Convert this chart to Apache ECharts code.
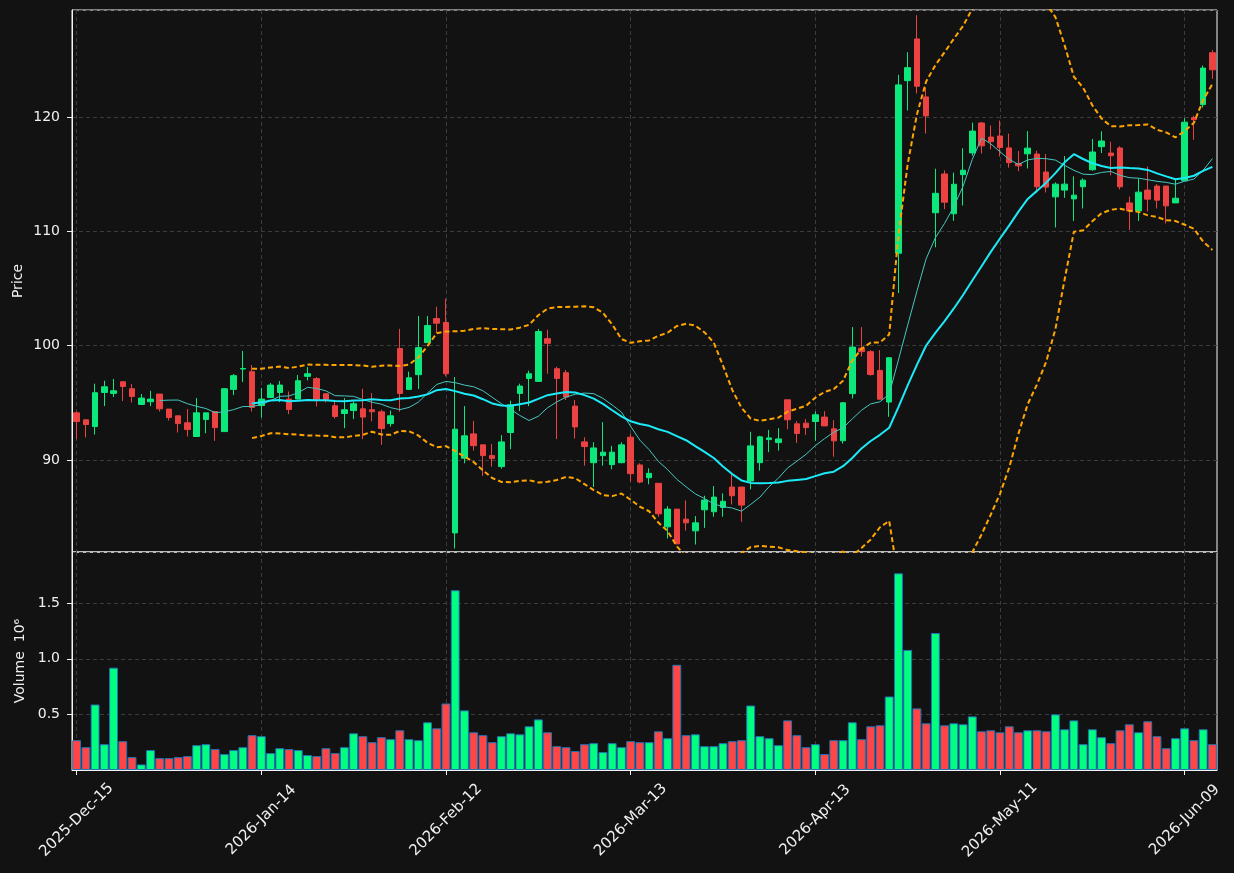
<!DOCTYPE html>
<html>
<head>
<meta charset="utf-8">
<script src="https://cdn.jsdelivr.net/npm/echarts@6/dist/echarts.min.js"></script>
<style>
  html, body { margin: 0; padding: 0; background: #121212; }
  #chart { width: 1234px; height: 873px; }
</style>
</head>
<body>
<div id="chart"></div>
<script>
// trading days shown on the x axis
const dates = [
  '2025-Dec-15','2025-Dec-16','2025-Dec-17','2025-Dec-18','2025-Dec-19','2025-Dec-22','2025-Dec-23','2025-Dec-24','2025-Dec-26','2025-Dec-29',
  '2025-Dec-30','2025-Dec-31','2026-Jan-02','2026-Jan-05','2026-Jan-06','2026-Jan-07','2026-Jan-08','2026-Jan-09','2026-Jan-12','2026-Jan-13',
  '2026-Jan-14','2026-Jan-15','2026-Jan-16','2026-Jan-20','2026-Jan-21','2026-Jan-22','2026-Jan-23','2026-Jan-26','2026-Jan-27','2026-Jan-28',
  '2026-Jan-29','2026-Jan-30','2026-Feb-02','2026-Feb-03','2026-Feb-04','2026-Feb-05','2026-Feb-06','2026-Feb-09','2026-Feb-10','2026-Feb-11',
  '2026-Feb-12','2026-Feb-13','2026-Feb-17','2026-Feb-18','2026-Feb-19','2026-Feb-20','2026-Feb-23','2026-Feb-24','2026-Feb-25','2026-Feb-26',
  '2026-Feb-27','2026-Mar-02','2026-Mar-03','2026-Mar-04','2026-Mar-05','2026-Mar-06','2026-Mar-09','2026-Mar-10','2026-Mar-11','2026-Mar-12',
  '2026-Mar-13','2026-Mar-16','2026-Mar-17','2026-Mar-18','2026-Mar-19','2026-Mar-20','2026-Mar-23','2026-Mar-24','2026-Mar-25','2026-Mar-26',
  '2026-Mar-27','2026-Mar-30','2026-Mar-31','2026-Apr-01','2026-Apr-02','2026-Apr-06','2026-Apr-07','2026-Apr-08','2026-Apr-09','2026-Apr-10',
  '2026-Apr-13','2026-Apr-14','2026-Apr-15','2026-Apr-16','2026-Apr-17','2026-Apr-20','2026-Apr-21','2026-Apr-22','2026-Apr-23','2026-Apr-24',
  '2026-Apr-27','2026-Apr-28','2026-Apr-29','2026-Apr-30','2026-May-01','2026-May-04','2026-May-05','2026-May-06','2026-May-07','2026-May-08',
  '2026-May-11','2026-May-12','2026-May-13','2026-May-14','2026-May-15','2026-May-18','2026-May-19','2026-May-20','2026-May-21','2026-May-22',
  '2026-May-26','2026-May-27','2026-May-28','2026-May-29','2026-Jun-01','2026-Jun-02','2026-Jun-03','2026-Jun-04','2026-Jun-05','2026-Jun-08',
  '2026-Jun-09','2026-Jun-10','2026-Jun-11','2026-Jun-12'
];

const openPrice = [
  94.12,93.51,92.92,95.90,95.82,96.84,96.23,94.85,95.09,95.76,
  94.45,93.86,93.25,92.05,93.54,94.24,92.48,96.17,97.95,97.72,
  94.76,95.46,95.90,95.32,95.32,97.31,97.11,95.79,94.74,94.06,
  94.32,94.47,94.39,94.21,93.18,99.74,96.17,97.46,100.26,102.37,
  102.02,83.62,90.15,92.28,91.32,90.38,89.42,92.40,95.82,97.13,
  96.87,100.61,97.98,97.63,94.71,91.58,89.76,90.38,89.59,89.76,
  91.99,89.56,88.45,87.96,84.15,85.70,84.82,83.80,85.64,85.47,
  85.85,87.63,87.63,88.16,89.76,91.78,91.52,95.26,93.16,93.22,
  93.36,93.75,92.72,91.68,95.80,99.77,99.47,97.83,95.06,108.08,
  123.17,126.82,121.75,111.62,115.01,111.53,114.95,116.85,119.47,118.24,
  118.33,117.29,115.93,116.77,116.75,115.18,113.01,113.60,112.83,113.89,
  115.38,117.40,116.84,117.28,112.48,111.78,113.60,113.95,113.95,112.48,
  114.41,119.94,121.08,125.61
];
const closePrice = [
  93.36,93.10,95.88,96.40,96.05,96.43,95.55,95.41,95.32,94.47,
  93.71,93.18,92.66,94.12,94.12,92.83,96.23,97.37,98.00,94.59,
  95.32,96.55,96.55,94.41,96.93,97.54,95.26,95.26,93.80,94.39,
  94.91,93.75,94.21,92.75,93.86,95.82,97.19,99.82,101.75,101.96,
  97.54,92.69,92.11,91.25,90.38,90.12,91.58,94.82,96.46,97.54,
  101.23,100.20,97.13,95.50,92.89,91.17,91.05,90.68,90.68,91.32,
  88.80,88.07,88.83,85.29,85.70,82.66,84.50,84.50,86.49,86.75,
  86.38,86.87,86.05,91.23,92.02,91.93,91.84,93.51,92.31,92.83,
  93.95,92.98,91.67,95.00,99.87,99.47,97.47,95.31,98.94,122.80,
  124.31,122.68,120.09,113.32,112.54,114.11,115.34,118.76,117.47,117.84,
  117.32,116.00,115.72,117.27,113.89,113.86,114.12,114.12,113.16,114.47,
  116.93,117.89,116.61,113.89,111.78,113.42,112.81,112.72,112.22,112.89,
  119.54,119.76,124.27,124.12
];
const highPrice = [
  94.24,93.51,96.67,96.93,97.08,96.84,96.64,95.76,96.05,95.76,
  94.45,93.86,94.45,95.41,94.12,94.24,96.29,97.52,99.54,98.30,
  96.29,96.73,96.90,95.99,97.43,98.13,97.25,95.79,95.11,95.41,
  95.11,96.23,95.85,94.39,94.32,101.46,97.72,102.60,102.60,103.39,
  104.10,97.25,94.71,93.42,91.32,91.40,92.17,95.18,96.67,97.81,
  101.46,101.38,98.16,97.87,95.24,91.99,91.55,93.31,91.23,91.55,
  92.28,89.71,89.27,87.96,85.96,85.70,86.46,85.09,86.87,87.72,
  87.08,88.75,87.63,92.46,92.11,92.63,92.78,95.26,93.39,93.57,
  94.24,94.27,93.48,95.06,101.62,101.62,99.61,99.61,98.94,123.68,
  125.66,128.90,122.55,115.47,115.32,115.13,117.26,119.50,119.56,119.25,
  119.68,118.54,117.01,118.76,117.04,116.75,114.27,116.58,114.80,114.62,
  118.07,118.74,117.83,117.43,113.04,114.62,115.67,114.12,113.95,114.62,
  119.89,120.11,124.50,125.85
];
const lowPrice = [
  91.82,91.96,92.22,94.71,95.50,95.15,95.03,94.85,94.71,94.24,
  93.45,92.40,92.05,92.05,92.34,91.67,92.48,95.67,96.82,94.24,
  93.71,95.41,95.06,94.00,95.32,96.96,94.68,95.03,93.62,92.78,
  93.57,91.82,93.39,91.32,92.92,94.21,96.14,96.20,100.26,101.11,
  97.31,82.25,89.71,90.82,88.60,89.42,89.24,90.94,94.27,94.71,
  96.87,97.54,91.82,95.24,91.87,89.50,87.63,89.50,89.18,89.71,
  88.10,87.96,87.87,85.03,83.13,82.66,83.83,82.60,84.06,85.03,
  85.03,86.11,84.59,87.43,89.06,90.68,90.82,92.69,91.49,92.19,
  91.67,92.96,90.29,91.43,95.37,99.06,97.37,95.31,93.77,104.60,
  120.56,122.05,118.54,108.60,111.93,110.91,112.25,116.60,116.79,117.16,
  116.54,115.56,115.25,115.49,113.39,113.39,110.33,112.92,110.90,111.99,
  115.29,116.84,114.89,113.66,110.11,110.90,111.73,111.99,110.68,112.48,
  114.41,118.00,120.82,123.33
];
// volume in millions
const volume = [
  0.268,0.205,0.589,0.232,0.920,0.259,0.116,0.050,0.179,0.107,
  0.107,0.116,0.125,0.223,0.232,0.188,0.143,0.179,0.205,0.313,
  0.304,0.152,0.196,0.188,0.179,0.134,0.125,0.196,0.152,0.205,
  0.330,0.304,0.250,0.295,0.277,0.357,0.277,0.268,0.429,0.375,
  0.598,1.616,0.536,0.339,0.313,0.250,0.304,0.330,0.321,0.393,
  0.455,0.339,0.214,0.205,0.170,0.232,0.241,0.161,0.241,0.205,
  0.259,0.250,0.250,0.348,0.286,0.946,0.313,0.321,0.214,0.214,
  0.241,0.259,0.268,0.580,0.304,0.286,0.223,0.446,0.313,0.205,
  0.232,0.143,0.268,0.268,0.429,0.277,0.393,0.402,0.661,1.768,
  1.080,0.554,0.420,1.232,0.402,0.420,0.411,0.482,0.348,0.357,
  0.339,0.393,0.339,0.357,0.357,0.348,0.500,0.366,0.446,0.232,
  0.366,0.295,0.241,0.357,0.411,0.339,0.438,0.304,0.196,0.286,
  0.375,0.268,0.366,0.232
];

const priceTicks = [90, 100, 110, 120];
const volumeTicks = [0.5, 1.0, 1.5];

const upColor = '#0ce87c';
const downColor = '#ec4242';
const textColor = '#f0f0f0';
const frameColor = '#f4f4f4';

// rolling mean / bollinger band from the close prices
function movingAverage(values, n) {
  const out = [];
  for (let i = 0; i < values.length; i++) {
    if (i < n - 1) { out.push('-'); continue; }
    let sum = 0;
    for (let j = i - n + 1; j <= i; j++) sum += values[j];
    out.push(+(sum / n).toFixed(3));
  }
  return out;
}
function bollinger(values, n, k, sign) {
  const mid = movingAverage(values, n);
  return mid.map((m, i) => {
    if (m === '-') return '-';
    let s = 0;
    for (let j = i - n + 1; j <= i; j++) s += (values[j] - m) * (values[j] - m);
    return +(m + sign * k * Math.sqrt(s / n)).toFixed(3);
  });
}

const ma10 = movingAverage(closePrice, 10);
const ma20 = movingAverage(closePrice, 20);
const bbUpper = bollinger(closePrice, 20, 2, 1);
const bbLower = bollinger(closePrice, 20, 2, -1);

const candleData = dates.map((d, i) => [openPrice[i], closePrice[i], lowPrice[i], highPrice[i]]);
const volumeData = volume.map((v, i) => ({
  value: v,
  itemStyle: { color: closePrice[i] >= openPrice[i] ? '#00ff80' : '#ff4545' }
}));

const gridLines = {
  show: true,
  interval: 19,
  alignWithLabel: true,
  lineStyle: { color: '#3c3c3c', type: [4, 3], width: 1 }
};

const chart = echarts.init(document.getElementById('chart'));
chart.setOption({
  backgroundColor: '#121212',
  animation: false,
  textStyle: { fontFamily: 'DejaVu Sans' },
  grid: [
    { left: 72, right: 17, top: 10, height: 542, show: true, borderColor: frameColor, borderWidth: 1 },
    { left: 72, right: 17, top: 552, height: 218, show: true, borderColor: frameColor, borderWidth: 1 }
  ],
  xAxis: [
    {
      type: 'category', gridIndex: 0, data: dates, boundaryGap: true,
      axisLine: { show: false }, axisTick: { show: false }, axisLabel: { show: false },
      splitLine: gridLines
    },
    {
      type: 'category', gridIndex: 1, data: dates, boundaryGap: true,
      axisLine: { show: true, lineStyle: { color: frameColor } },
      axisTick: { show: true, interval: 19, alignWithLabel: true, length: 5, lineStyle: { color: frameColor } },
      axisLabel: {
        interval: 19, rotate: 45, align: 'center', verticalAlign: 'middle',
        margin: 50, color: textColor, fontSize: 15
      },
      splitLine: gridLines
    }
  ],
  yAxis: [
    {
      type: 'value', gridIndex: 0, min: 81.95, max: 129.35,
      name: 'Price', nameLocation: 'middle', nameRotate: 90, nameGap: 47, nameMoveOverlap: false,
      nameTextStyle: { color: textColor, fontSize: 14 },
      axisLine: { show: true, lineStyle: { color: frameColor } },
      axisTick: { show: true, length: 5, lineStyle: { color: frameColor } },
      axisLabel: {
        color: textColor, fontSize: 14, margin: 12, showMinLabel: false, showMaxLabel: false,
        formatter: v => priceTicks.includes(v) ? String(v) : ''
      },
      splitLine: { show: true, lineStyle: { color: '#3c3c3c', type: [4, 3], width: 1 } }
    },
    {
      type: 'value', gridIndex: 1, min: 0, max: 1.96, interval: 0.5,
      name: 'Volume  10\u2076', nameLocation: 'middle', nameRotate: 90, nameGap: 45, nameMoveOverlap: false,
      nameTextStyle: { color: textColor, fontSize: 14 },
      axisLine: { show: true, lineStyle: { color: frameColor } },
      axisTick: { show: true, length: 5, lineStyle: { color: frameColor } },
      axisLabel: {
        color: textColor, fontSize: 14, margin: 12, showMinLabel: false, showMaxLabel: false,
        formatter: v => volumeTicks.some(t => Math.abs(t - v) < 1e-6) ? v.toFixed(1) : ''
      },
      splitLine: { show: true, lineStyle: { color: '#3c3c3c', type: [4, 3], width: 1 } }
    }
  ],
  series: [
    {
      name: 'Candles', type: 'candlestick', xAxisIndex: 0, yAxisIndex: 0,
      data: candleData, barWidth: 6,
      itemStyle: {
        color: upColor, color0: downColor,
        borderColor: upColor, borderColor0: downColor, borderWidth: 1
      }
    },
    {
      name: 'MA10', type: 'line', xAxisIndex: 0, yAxisIndex: 0, data: ma10,
      symbol: 'none', lineStyle: { color: '#45c8c0', width: 1 }
    },
    {
      name: 'MA20', type: 'line', xAxisIndex: 0, yAxisIndex: 0, data: ma20,
      symbol: 'none', lineStyle: { color: '#1ceaf8', width: 2 }
    },
    {
      name: 'BB upper', type: 'line', xAxisIndex: 0, yAxisIndex: 0, data: bbUpper,
      symbol: 'none', lineStyle: { color: '#ffa500', width: 2, type: [5, 3] }
    },
    {
      name: 'BB lower', type: 'line', xAxisIndex: 0, yAxisIndex: 0, data: bbLower,
      symbol: 'none', lineStyle: { color: '#ffa500', width: 2, type: [5, 3] }
    },
    {
      name: 'Volume', type: 'bar', xAxisIndex: 1, yAxisIndex: 1,
      data: volumeData, barCategoryGap: '4%',
      itemStyle: { borderColor: '#2274b6', borderWidth: 1 }
    }
  ]
});
</script>
</body>
</html>
